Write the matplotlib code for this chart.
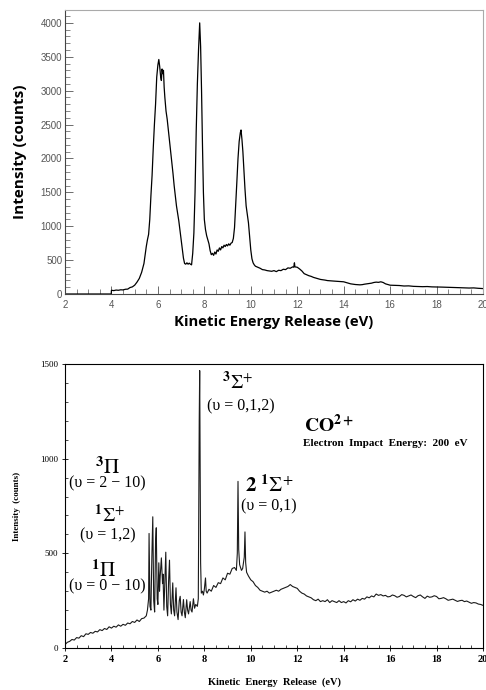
import numpy as np
import matplotlib
matplotlib.use('Agg')
import matplotlib.pyplot as plt
from matplotlib.ticker import MultipleLocator

# top spectrum (kinetic energy release, counts)
top_ker = [2.0, 3.99, 4.0, 4.1, 4.2, 4.3, 4.4, 4.5, 4.6, 4.7, 4.8, 4.9, 5.0, 5.1, 5.2, 5.3, 5.4,
           5.5, 5.55, 5.6, 5.65, 5.7, 5.75, 5.8, 5.85, 5.9, 5.95, 6.0, 6.04, 6.08, 6.12, 6.15,
           6.18, 6.21, 6.24, 6.27, 6.3, 6.35, 6.4, 6.45, 6.5, 6.55, 6.6, 6.65, 6.7, 6.8, 6.9,
           7.0, 7.05, 7.1, 7.15, 7.2, 7.25, 7.3, 7.35, 7.4, 7.45, 7.5, 7.55, 7.6, 7.65, 7.7,
           7.75, 7.8, 7.84, 7.88, 7.92, 7.96, 8.0, 8.05, 8.1, 8.15, 8.2, 8.25, 8.3, 8.35, 8.4,
           8.45, 8.5, 8.55, 8.6, 8.65, 8.7, 8.75, 8.8, 8.85, 8.9, 8.95, 9.0, 9.05, 9.1, 9.15,
           9.2, 9.25, 9.3, 9.35, 9.4, 9.45, 9.5, 9.55, 9.58, 9.62, 9.66, 9.7, 9.75, 9.8, 9.85,
           9.9, 9.95, 10.0, 10.05, 10.1, 10.15, 10.2, 10.3, 10.4, 10.5, 10.6, 10.7, 10.8, 10.9,
           11.0, 11.1, 11.2, 11.3, 11.4, 11.5, 11.6, 11.7, 11.8, 11.85, 11.88, 11.9, 12.0, 12.1,
           12.2, 12.3, 12.4, 12.5, 12.6, 12.7, 12.8, 12.9, 13.0, 13.1, 13.2, 13.3, 13.4, 13.5,
           13.6, 13.7, 13.8, 13.9, 14.0, 14.1, 14.2, 14.3, 14.4, 14.5, 14.6, 14.7, 14.8, 14.9,
           15.0, 15.1, 15.2, 15.3, 15.4, 15.5, 15.6, 15.7, 15.8, 15.9, 16.0, 16.2, 16.4, 16.6,
           16.8, 17.0, 17.2, 17.4, 17.6, 17.8, 18.0, 18.2, 18.4, 18.6, 18.8, 19.0, 19.2, 19.4,
           19.6, 19.8, 20.0]
top_counts = [0, 0, 55, 50, 58, 55, 62, 60, 70, 72, 95, 105, 130, 175, 230, 320, 450,
              700, 800, 880, 1100, 1450, 1750, 2150, 2500, 2800, 3200, 3380, 3460, 3350, 3200, 3150,
              3320, 3250, 3300, 3050, 2900, 2700, 2580, 2420, 2250, 2100, 1950, 1780, 1600, 1300, 1080,
              800, 650, 530, 450, 440, 460, 440, 455, 440, 430, 600, 900, 1500, 2400, 3100,
              3600, 4000, 3650, 3000, 2200, 1500, 1100, 950, 860, 800, 740, 640, 580, 600, 570,
              620, 590, 650, 630, 680, 650, 700, 680, 720, 700, 730, 710, 740, 720, 750,
              760, 820, 980, 1300, 1650, 2000, 2250, 2380, 2420, 2280, 2100, 1850, 1550, 1300, 1180,
              1050, 850, 650, 520, 460, 430, 410, 395, 380, 360, 355, 345, 340, 335,
              345, 330, 350, 345, 365, 360, 385, 380, 400, 395, 460, 400, 395, 370,
              340, 300, 285, 270, 260, 245, 235, 225, 215, 210, 205, 198, 195, 192,
              190, 188, 185, 182, 180, 170, 160, 150, 145, 140, 138, 135, 138, 145,
              150, 155, 160, 170, 175, 172, 180, 170, 150, 140, 130, 128, 125, 118,
              120, 113, 110, 108, 110, 105, 104, 102, 100, 98, 96, 93, 90, 88,
              90, 84, 80]

# bottom spectrum
bot_ker = [2.0, 2.1, 2.2, 2.3, 2.4, 2.5, 2.6, 2.7, 2.8, 2.9, 3.0, 3.1, 3.2, 3.3, 3.4, 3.5, 3.6,
           3.7, 3.8, 3.9, 4.0, 4.1, 4.2, 4.3, 4.4, 4.5, 4.6, 4.7, 4.8, 4.9, 5.0, 5.1, 5.2, 5.3,
           5.4, 5.5, 5.55, 5.6, 5.62, 5.66, 5.7, 5.74, 5.78, 5.82, 5.86, 5.9, 5.93, 5.97, 6.0,
           6.04, 6.07, 6.1, 6.15, 6.2, 6.22, 6.26, 6.3, 6.34, 6.38, 6.42, 6.46, 6.5, 6.54, 6.58,
           6.64, 6.68, 6.72, 6.78, 6.82, 6.87, 6.92, 6.96, 7.0, 7.04, 7.1, 7.14, 7.18, 7.24, 7.28,
           7.32, 7.39, 7.43, 7.47, 7.53, 7.58, 7.63, 7.7, 7.74, 7.76, 7.78, 7.8, 7.82, 7.84, 7.87,
           7.92, 7.96, 8.0, 8.05, 8.08, 8.12, 8.2, 8.3, 8.4, 8.5, 8.6, 8.7, 8.8, 8.9, 9.0, 9.1,
           9.2, 9.3, 9.38, 9.42, 9.45, 9.48, 9.52, 9.6, 9.65, 9.72, 9.75, 9.78, 9.82, 9.9, 10.0,
           10.1, 10.2, 10.3, 10.4, 10.5, 10.6, 10.7, 10.8, 10.9, 11.0, 11.1, 11.2, 11.3, 11.4,
           11.5, 11.6, 11.7, 11.8, 11.9, 12.0, 12.1, 12.2, 12.3, 12.4, 12.5, 12.6, 12.7, 12.8,
           12.9, 13.0, 13.1, 13.2, 13.3, 13.4, 13.5, 13.6, 13.7, 13.8, 13.9, 14.0, 14.1, 14.2,
           14.3, 14.4, 14.5, 14.6, 14.7, 14.8, 14.9, 15.0, 15.1, 15.2, 15.3, 15.4, 15.5, 15.6,
           15.7, 15.8, 15.9, 16.0, 16.1, 16.2, 16.3, 16.4, 16.5, 16.6, 16.7, 16.8, 16.9, 17.0,
           17.1, 17.2, 17.3, 17.4, 17.5, 17.6, 17.7, 17.8, 17.9, 18.0, 18.1, 18.2, 18.3, 18.4,
           18.5, 18.6, 18.7, 18.8, 18.9, 19.0, 19.1, 19.2, 19.3, 19.4, 19.5, 19.6, 19.7, 19.8,
           19.9, 20.0]
bot_counts = [18, 30, 35, 45, 42, 55, 52, 65, 60, 75, 72, 82, 78, 88, 85, 97, 92,
              103, 98, 112, 105, 115, 110, 122, 115, 125, 120, 132, 128, 140, 135, 148, 140, 155,
              158, 170, 200, 260, 605, 220, 200, 480, 693, 250, 190, 560, 635, 260, 230,
              450, 300, 380, 476, 340, 390, 200, 350, 506, 220, 170, 350, 464, 230, 180,
              344, 200, 170, 318, 190, 150, 250, 273, 190, 170, 256, 190, 160, 255, 200,
              180, 245, 200, 190, 260, 210, 230, 220, 260, 700, 1200, 1465, 1000, 450, 290,
              300, 280, 310, 370, 300, 290, 310, 300, 330, 320, 345, 340, 370, 360, 395, 390,
              420, 425, 410, 500, 880, 520, 440, 410, 420, 480, 613, 450, 400, 380, 360,
              350, 330, 320, 305, 300, 295, 300, 290, 295, 300, 305, 300, 310, 315,
              320, 325, 335, 325, 320, 315, 300, 290, 285, 275, 270, 265, 255, 250,
              258, 245, 250, 245, 255, 240, 250, 245, 240, 250, 240, 245, 238, 250,
              244, 255, 248, 258, 252, 262, 258, 270, 265, 275, 270, 285, 278, 282,
              275, 278, 270, 272, 280, 276, 268, 272, 282, 278, 270, 275, 280, 272,
              266, 276, 280, 270, 262, 274, 268, 270, 276, 272, 260, 262, 266, 260,
              252, 255, 258, 252, 246, 250, 252, 245, 248, 242, 236, 240, 238, 232,
              230, 225]

plt.rcParams['mathtext.fontset'] = 'stix'

fig = plt.figure(figsize=(4.86, 6.9), dpi=100)

# ---------- top panel ----------
ax1 = fig.add_axes([65/486, 1 - 294/690, 418/486, 284/690])
ax1.plot(top_ker, top_counts, color='black', lw=0.9)
ax1.set_xlim(2, 20)
ax1.set_ylim(0, 4190)
ax1.xaxis.set_major_locator(MultipleLocator(2))
ax1.xaxis.set_minor_locator(MultipleLocator(0.5))
ax1.yaxis.set_major_locator(MultipleLocator(500))
ax1.yaxis.set_minor_locator(MultipleLocator(100))
ax1.tick_params(which='both', direction='in', colors='#555555', labelsize=7, pad=4,
                labelfontfamily='Liberation Sans')
ax1.tick_params(axis='y', pad=2)
ax1.tick_params(which='major', length=6, width=0.6)
ax1.tick_params(which='minor', length=3.5, width=0.5)
for s in ['top', 'right']:
    ax1.spines[s].set_color('#aaaaaa')
for s in ['left', 'bottom']:
    ax1.spines[s].set_color('#444444')
ax1.set_xlabel('Kinetic Energy Release (eV)', family='Open Sans', fontweight='bold',
               fontsize=10.7, labelpad=4)
ax1.set_ylabel('Intensity (counts)', family='Open Sans', fontweight='bold',
               fontsize=11, labelpad=10)

# ---------- bottom panel ----------
ax2 = fig.add_axes([65/486, 1 - 648/690, 418/486, 284/690])
ax2.plot(bot_ker, bot_counts, color='#1a1a1a', lw=0.8)
ax2.set_xlim(2, 20)
ax2.set_ylim(0, 1500)
ax2.xaxis.set_major_locator(MultipleLocator(2))
ax2.xaxis.set_minor_locator(MultipleLocator(0.5))
ax2.yaxis.set_major_locator(MultipleLocator(500))
ax2.yaxis.set_minor_locator(MultipleLocator(100))
ax2.tick_params(which='major', direction='inout', length=4, width=0.6, pad=3)
ax2.tick_params(which='minor', direction='in', length=2, width=0.5)
ax2.tick_params(axis='y', labelsize=6.5)
ax2.tick_params(axis='x', labelsize=7.5)
for lab in ax2.get_yticklabels():
    lab.set_family('Liberation Serif')
for lab in ax2.get_xticklabels():
    lab.set_family('Liberation Serif')
    lab.set_fontweight('bold')
ax2.set_xlabel('Kinetic  Energy  Release  (eV)', family='Liberation Serif', fontweight='bold',
               fontsize=7.5, labelpad=10)
ax2.set_ylabel('Intensity  (counts)', family='Liberation Serif', fontweight='bold',
               fontsize=6.5, labelpad=14)

serif = 'Liberation Serif'
ax2.text(9.45, 1407, r'$^{\mathbf{3}}\Sigma^{+}$', fontsize=14, ha='center', va='center')
ax2.text(9.58, 1275, '(\u03c5 = 0,1,2)', family=serif, fontsize=11.5, ha='center', va='center')
ax2.text(12.3, 1180, r'$\mathbf{CO}^{\mathbf{2+}}$', fontsize=14, ha='left', va='center')
ax2.text(12.25, 1080, 'Electron  Impact  Energy:  200  eV', family=serif, fontweight='bold',
         fontsize=8, ha='left', va='center')
ax2.text(3.85, 958, r'$^{\mathbf{3}}\Pi$', fontsize=15, ha='center', va='center')
ax2.text(3.81, 868, '(\u03c5 = 2 \u2212 10)', family=serif, fontsize=11.5, ha='center', va='center')
ax2.text(3.9, 704, r'$^{\mathbf{1}}\Sigma^{+}$', fontsize=14, ha='center', va='center')
ax2.text(3.85, 593, '(\u03c5 = 1,2)', family=serif, fontsize=11.5, ha='center', va='center')
ax2.text(3.68, 414, r'$^{\mathbf{1}}\Pi$', fontsize=15, ha='center', va='center')
ax2.text(3.81, 324, '(\u03c5 = 0 \u2212 10)', family=serif, fontsize=11.5, ha='center', va='center')
ax2.text(9.75, 863, r'$\mathbf{2}\ ^{\mathbf{1}}\Sigma^{+}$', fontsize=15, ha='left', va='center')
ax2.text(9.58, 747, '(\u03c5 = 0,1)', family=serif, fontsize=11.5, ha='left', va='center')

fig.savefig('out.png', dpi=100)
